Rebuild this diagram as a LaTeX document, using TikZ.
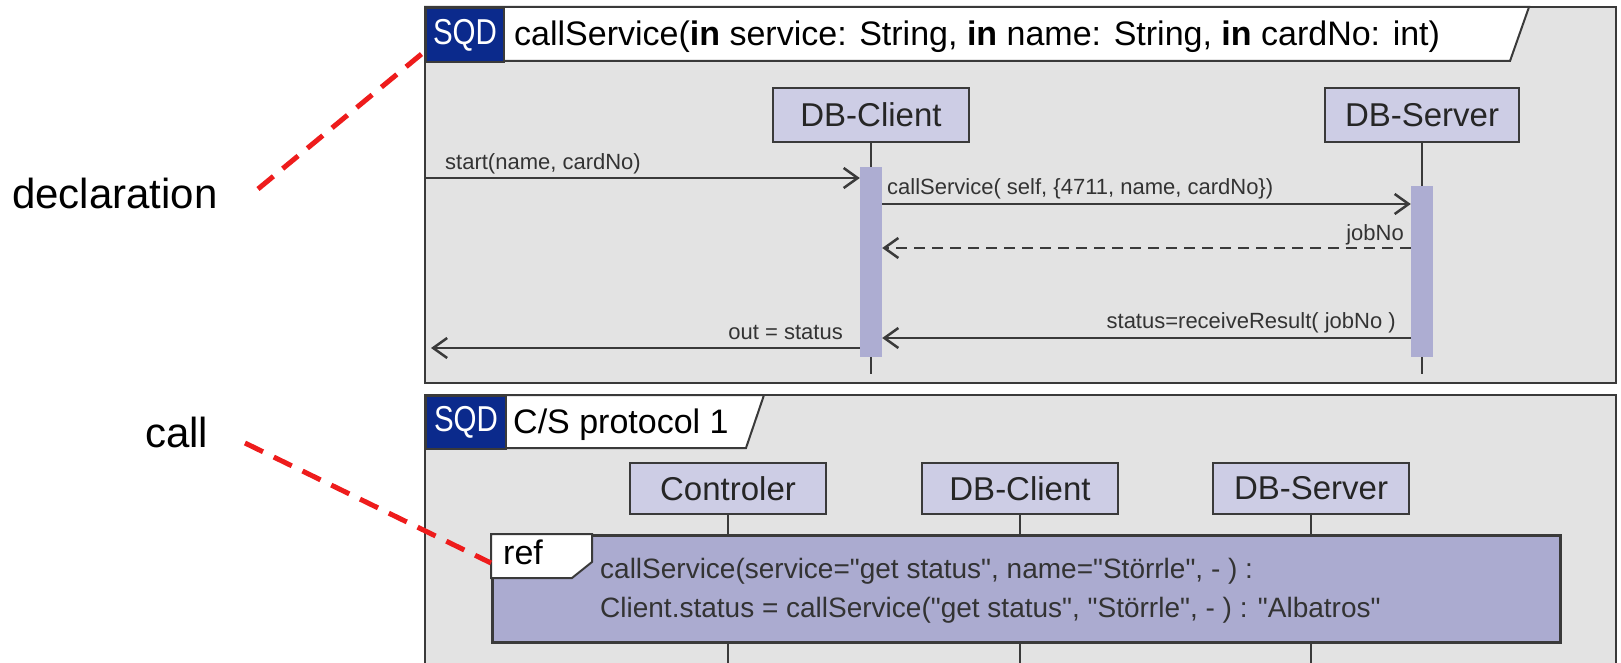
\documentclass[tikz,border=0pt]{standalone}
\usepackage{fontspec}
\usepackage{graphicx}
\setmainfont{Liberation Sans}
\usetikzlibrary{arrows.meta}
\definecolor{framebg}{HTML}{E3E3E3}
\definecolor{lifebg}{HTML}{CDCDE5}
\definecolor{actbg}{HTML}{ADADD2}
\definecolor{refbg}{HTML}{ABABD0}
\definecolor{sqdblue}{HTML}{0B2A8C}
\definecolor{linegray}{HTML}{3A3A3A}
\definecolor{annred}{HTML}{EE1C1C}
\definecolor{txtgray}{HTML}{333333}
\newcommand{\dq}{\textquotedbl}
\begin{document}
\begin{tikzpicture}[x=1pt,y=-1pt,
  frame/.style={draw=linegray, line width=2.5pt, fill=framebg},
  headtab/.style={draw=linegray, line width=2pt, fill=white},
  lifebox/.style={draw=linegray, line width=2pt, fill=lifebg, minimum width=196pt, minimum height=54pt, inner sep=0pt, font=\fontsize{33}{36}\selectfont, text=black!85},
  actbar/.style={fill=actbg, minimum width=22pt, inner sep=0pt, draw=none},
  lifeline/.style={draw=linegray, line width=2pt},
  msg/.style={draw=linegray, line width=2.5pt, -{Straight Barb[length=14pt,width=20pt]}},
  ret/.style={msg, dash pattern=on 11pt off 7pt},
  msglabel/.style={font=\fontsize{22}{24}\selectfont, text=txtgray, inner sep=0pt},
  head/.style={font=\fontsize{34}{36}\selectfont, inner sep=0pt},
  sqd/.style={fill=sqdblue, draw=linegray, line width=2pt, text=white, inner sep=0pt, font=\fontsize{36}{38}\selectfont},
  annot/.style={font=\fontsize{42}{46}\selectfont, inner sep=0pt},
  annline/.style={draw=annred, line width=5pt, dash pattern=on 20pt off 12pt}
]
\useasboundingbox (0,0) rectangle (1621,663);
\clip (0,0) rectangle (1621,663);
\fill[white] (0,0) rectangle (1621,663);

% ---------- top frame ----------
\draw[frame] (425,7) rectangle (1616,383);
\draw[headtab] (425,7) -- (1529,7) -- (1510,61) -- (425,61) -- cycle;
\node[sqd, anchor=north west, minimum width=78pt, minimum height=54pt] (sqd1) at (425,7) {\scalebox{0.82}[1]{SQD}};
\node[head, anchor=base west] (h1) at (514,46) {callService(\textbf{in} service: String, \textbf{in} name: String, \textbf{in} cardNo: int)};

\node[lifebox] (dbc1) at (871,115) {DB-Client};
\node[lifebox, minimum width=194pt] (dbs1) at (1422,115) {DB-Server};
\node[actbar, minimum height=190pt, anchor=north] (actc) at (871,167) {};
\node[actbar, minimum height=171pt, anchor=north] (acts) at (1422,186) {};
\coordinate (endc1) at (871,374);
\coordinate (ends1) at (1422,374);
\draw[lifeline] (dbc1.south) -- (actc.north);
\draw[lifeline] (actc.south) -- (endc1);
\draw[lifeline] (dbs1.south) -- (acts.north);
\draw[lifeline] (acts.south) -- (ends1);

\coordinate (fl1) at (425,178);
\draw[msg] (fl1) -- (fl1 -| actc.west);
\node[msglabel, anchor=base west] (l1) at (445,170) {start(name, cardNo)};
\coordinate (m2) at (0,204);
\draw[msg] (m2 -| actc.east) -- (m2 -| acts.west);
\node[msglabel, anchor=base west] (l2) at (887,195) {callService( self, \{4711, name, cardNo\})};
\coordinate (m3) at (0,248);
\draw[ret] (m3 -| acts.west) -- (m3 -| actc.east);
\node[msglabel, anchor=base east] (l3) at (1404,240) {jobNo};
\coordinate (m4) at (0,338);
\draw[msg] (m4 -| acts.west) -- (m4 -| actc.east);
\node[msglabel, anchor=base east] (l4) at (1396,328) {status=receiveResult( jobNo )};
\coordinate (m5) at (431,348);
\draw[msg] (m5 -| actc.west) -- (m5);
\node[msglabel, anchor=base east] (l5) at (843,339) {out = status};

% ---------- bottom frame ----------
\draw[frame] (425,395) rectangle (1616,720);
\draw[headtab] (425,395) -- (764,395) -- (746,448) -- (425,448) -- cycle;
\node[sqd, anchor=north west, minimum width=80pt, minimum height=53pt] (sqd2) at (425,395) {\scalebox{0.82}[1]{SQD}};
\node[head, anchor=base west] (h2) at (513,433) {C/S protocol 1};

\node[lifebox, minimum height=51pt] (ctl) at (728,488.5) {Controler};
\node[lifebox, minimum height=51pt] (dbc2) at (1020,488.5) {DB-Client};
\node[lifebox, minimum height=51pt] (dbs2) at (1311,488.5) {DB-Server};
\node[draw=linegray, line width=2.5pt, fill=refbg, minimum width=1068pt, minimum height=107pt, anchor=north west, inner sep=0pt] (ref) at (491,534) {};
\coordinate (endb) at (0,680);
\foreach \n in {ctl,dbc2,dbs2}{
  \draw[lifeline] (\n.south) -- (\n.south |- ref.north);
  \draw[lifeline] (\n.south |- ref.south) -- (\n.south |- endb);
}
\draw[headtab] (ref.north west) -- ++(101,0) -- ++(0,28) -- ++(-20,16) -- (ref.north west |- 0,578) -- cycle;
\node[anchor=base west, font=\fontsize{34}{36}\selectfont, inner sep=0pt] (reft) at (503,564) {ref};
\node[anchor=base west, font=\fontsize{28}{30}\selectfont, inner sep=0pt, text=txtgray] (rl1) at (600,578) {callService(service=\dq get status\dq, name=\dq Störrle\dq, - ) :};
\node[anchor=base west, font=\fontsize{28}{30}\selectfont, inner sep=0pt, text=txtgray] (rl2) at (600,617) {Client.status = callService(\dq get status\dq, \dq Störrle\dq, - ) : \dq Albatros\dq};

% ---------- annotations ----------
\node[annot, anchor=base west] (decl) at (12,208) {declaration};
\coordinate (declstart) at (258,189);
\coordinate (declend) at (424,52);
\draw[annline] (declstart) -- (declend);
\node[annot, anchor=base west] (callt) at (145,447) {call};
\coordinate (callstart) at (245,443);
\coordinate (callend) at (491,563);
\draw[annline] (callstart) -- (callend);
\end{tikzpicture}
\end{document}
